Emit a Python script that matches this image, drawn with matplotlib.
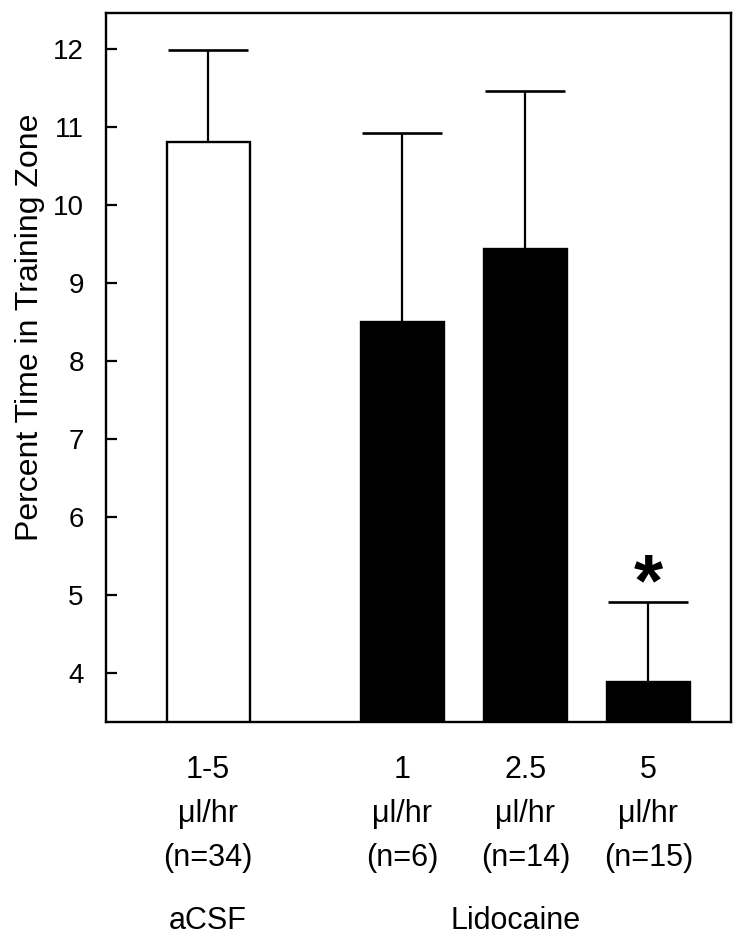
import numpy as np
import matplotlib
matplotlib.use('Agg')
import matplotlib.pyplot as plt

plt.rcParams['font.family'] = ['Liberation Sans', 'DejaVu Sans']

# data
doses = ['1-5\nμl/hr\n(n=34)', '1\nμl/hr\n(n=6)', '2.5\nμl/hr\n(n=14)', '5\nμl/hr\n(n=15)']
means = [10.8, 8.5, 9.44, 3.88]
sem = [1.19, 2.42, 2.02, 1.03]
colors = ['white', 'black', 'black', 'black']
groups = ['aCSF', 'Lidocaine']

xpos = np.array([0, 1.58, 2.58, 3.58])

fig = plt.figure(figsize=(7.42, 9.4), dpi=100)
ax = fig.add_axes([0.1429, 0.2319, 0.985 - 0.1429, 0.9862 - 0.2319])

ax.bar(xpos, means, width=0.675, color=colors, edgecolor='black', linewidth=1.7, zorder=2)
ax.errorbar(xpos, means, yerr=[np.zeros(len(means)), sem], fmt='none',
            ecolor='black', elinewidth=1.6, capsize=29, capthick=1.9, zorder=1)

# significance marker over the highest dose
ax.text(xpos[3], means[3] + sem[3] + 0.2, '*', ha='center', va='center',
        fontsize=54, fontweight='bold')

ax.set_xlim(-0.83, 4.25)
ax.set_ylim(3.37, 12.46)
ax.set_yticks(range(4, 13))
ax.set_xticks(xpos)
ax.set_xticklabels(doses, linespacing=1.6)
ax.tick_params(axis='x', length=0, pad=24, labelsize=22)
ax.tick_params(axis='y', direction='in', length=8, width=1.6, labelsize=20, pad=16)
for s in ax.spines.values():
    s.set_linewidth(1.7)

ax.set_ylabel('Percent Time in Training Zone', fontsize=23)
ax.yaxis.set_label_coords(-0.097, 0.557)

ax.text(xpos[0], -0.28, groups[0], transform=ax.get_xaxis_transform(),
        ha='center', va='center', fontsize=22)
ax.text(2.5, -0.28, groups[1], transform=ax.get_xaxis_transform(),
        ha='center', va='center', fontsize=22)

plt.savefig('out.png', dpi=100)
